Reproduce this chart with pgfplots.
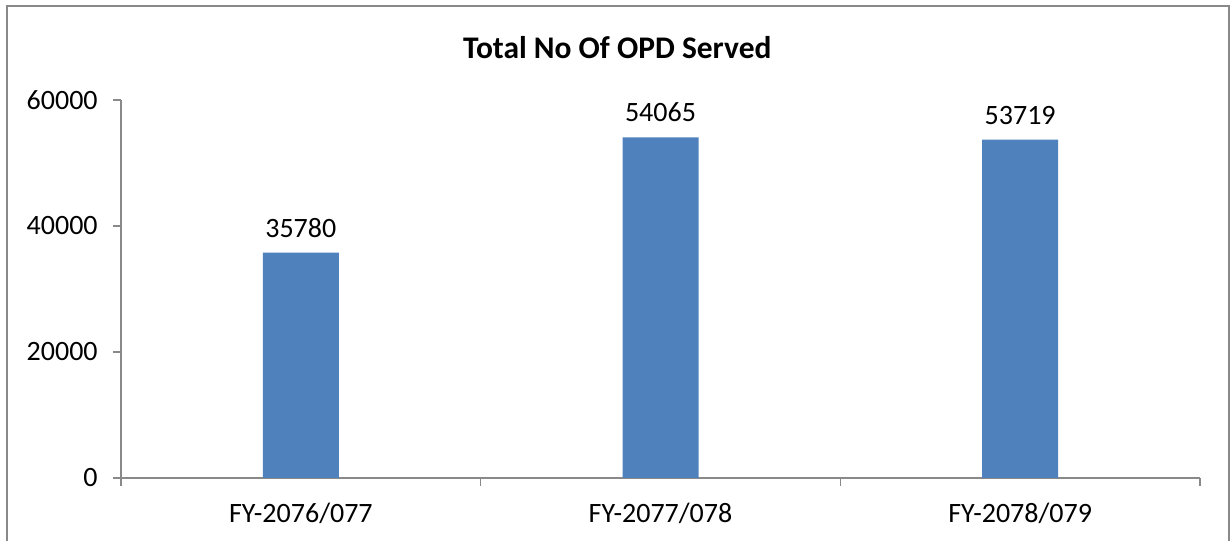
\documentclass[border=0pt]{standalone}
\usepackage{pgfplots}
\pgfplotsset{compat=1.18}
\usepackage{fontspec}
\setmainfont{Carlito}
\definecolor{barblue}{HTML}{4F81BD}
\definecolor{axisgray}{HTML}{898989}
\begin{document}
\begin{tikzpicture}
% outer frame of the chart area
\draw[axisgray, line width=1.3pt] (5.25pt,-10pt) -- (5.25pt,401.25pt) -- (921.75pt,401.25pt) -- (921.75pt,-10pt);
\node[font=\fontsize{23.6}{28}\selectfont\bfseries] at (463pt,369.75pt) {Total No Of OPD Served};
\begin{axis}[
at={(90.75pt,47.25pt)}, anchor=south west,
scale only axis,
width=809.25pt,
height=283.5pt,
xmin=-0.5, xmax=2.5,
ymin=0, ymax=60000,
axis lines*=left,
axis line style={axisgray, line width=1.2pt},
ytick={0,20000,40000,60000},
scaled y ticks=false,
tick align=outside,
major tick length=6pt,
ytick style={axisgray, line width=1.2pt},
xtick={0,1,2},
xticklabels={FY-2076/077,FY-2077/078,FY-2078/079},
xtick style={draw=none},
extra x ticks={-0.5,0.5,1.5,2.5},
extra x tick labels={},
extra x tick style={xtick style={draw=axisgray, line width=1.2pt}},
tick label style={font=\fontsize{21}{25}\selectfont, /pgf/number format/assume math mode=true},
yticklabel style={/pgf/number format/1000 sep={}, xshift=-8pt},
xticklabel style={yshift=-9pt},
ybar, bar width=57pt,
nodes near coords,
nodes near coords style={font=\fontsize{21}{25}\selectfont, /pgf/number format/1000 sep={}, /pgf/number format/assume math mode=true, yshift=8pt},
clip=false,
]
\addplot[fill=barblue, draw=none] coordinates {(0,35780) (1,54065) (2,53719)};
\end{axis}
\pgfresetboundingbox
\useasboundingbox (0,0) rectangle (923.25pt,405.75pt);
\end{tikzpicture}
\end{document}
